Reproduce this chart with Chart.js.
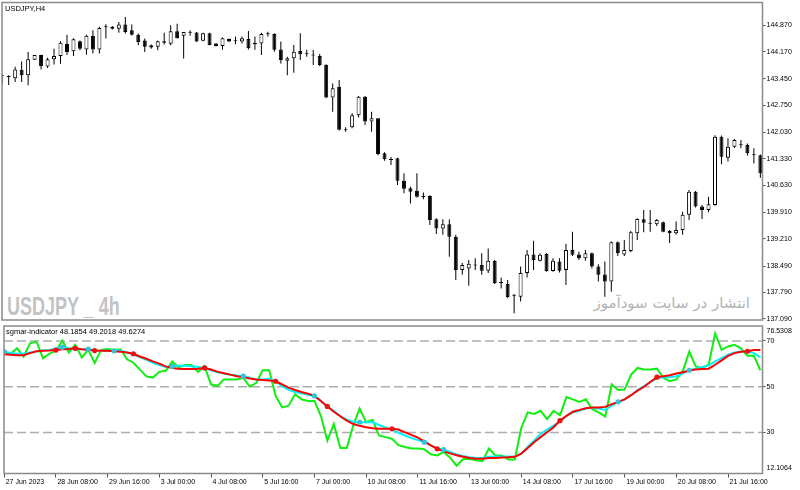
<!DOCTYPE html>
<html>
<head>
<meta charset="utf-8">
<script src="https://cdn.jsdelivr.net/npm/chart.js@4.4.1/dist/chart.umd.min.js"></script>
<style>
  html, body { margin: 0; padding: 0; background: #fff; }
  #wrap { position: relative; width: 800px; height: 490px; overflow: hidden; }
  canvas { position: absolute; left: 0; }
  .txt { position: absolute; white-space: nowrap; font-family: "Liberation Sans", Arial, sans-serif; color: #000; }
  #wm { left: 7px; top: 293.7px; font-size: 25px; line-height: 25px; font-weight: bold; color: #c3c3c3;
        transform: scaleX(0.72); transform-origin: 0 0; }
  #fa { right: 50px; top: 294px; font-family: "DejaVu Sans", sans-serif; font-size: 15px; line-height: 18px;
        color: #b4b4b4; direction: rtl; }
  #t1 { left: 5px; top: 3.5px; font-size: 7.5px; line-height: 9px; }
  #t2 { left: 6px; top: 326.5px; font-size: 7.5px; line-height: 9px; }
</style>
</head>
<body>
<div id="wrap">
  <div id="wm" class="txt">USDJPY _ 4h</div>
  <div id="fa" class="txt">انتشار در سایت سودآموز</div>
  <canvas id="main" width="800" height="322" style="top:0"></canvas>
  <canvas id="ind" width="800" height="168" style="top:322px"></canvas>
  <div id="t1" class="txt">USDJPY,H4</div>
  <div id="t2" class="txt">sgmar-indicator 48.1854 49.2018 49.6274</div>
</div>
<script>
// USDJPY H4 candles, 27 Jun 2023 00:00 onwards
const opens = [143.52,143.50,143.47,143.69,143.55,143.96,144.08,143.78,143.97,144.06,
  144.38,144.18,144.45,144.23,144.59,144.23,144.82,144.83,144.78,144.89,
  144.74,144.62,144.47,144.34,144.30,144.41,144.38,144.71,144.59,144.67,
  144.68,144.46,144.66,144.39,144.32,144.51,144.47,144.44,144.51,144.37,
  144.39,144.64,144.64,144.23,143.93,144.00,144.19,144.11,144.08,144.06,
  143.82,142.96,143.24,142.10,142.17,142.49,142.98,142.32,142.41,141.48,
  141.31,141.35,140.75,140.55,140.49,140.33,140.35,139.73,139.49,139.60,
  139.27,138.39,138.43,138.52,138.52,138.37,138.63,138.05,138.02,137.70,
  137.68,138.31,138.80,138.63,138.81,138.36,138.61,138.39,138.92,138.80,
  138.70,138.83,138.48,138.27,138.08,139.12,138.80,138.89,139.36,139.73,
  139.64,139.60,139.65,139.42,139.36,139.45,139.85,140.46,140.07,139.98,
  140.11,141.92,141.36,141.65,141.69,141.70,141.45,141.43];
const highs = [143.58,143.55,143.77,143.91,144.16,144.08,144.09,144.01,144.25,144.45,
  144.62,144.53,144.47,144.62,144.74,144.83,144.90,144.85,144.96,145.09,
  144.89,144.65,144.52,144.36,144.47,144.67,144.87,144.91,144.69,144.74,
  144.69,144.67,144.67,144.40,144.55,144.52,144.57,144.57,144.72,144.57,
  144.67,144.70,144.66,144.44,144.04,144.35,144.66,144.22,144.22,144.11,
  143.84,143.33,143.42,142.17,142.54,143.00,143.00,142.58,142.41,141.51,
  141.38,141.36,140.95,140.59,140.95,140.44,140.37,139.76,139.73,139.73,
  139.32,138.57,138.65,138.70,138.83,138.96,138.65,138.19,138.12,137.75,
  138.48,138.92,139.16,138.83,138.83,138.70,138.70,139.08,139.40,138.87,
  138.92,138.85,138.54,138.61,139.14,139.14,139.18,139.42,139.76,139.98,
  139.98,139.74,139.67,139.45,139.67,139.93,140.51,140.48,140.11,140.33,
  141.96,141.95,141.88,141.86,141.83,141.74,141.61,141.45];
const lows = [143.32,143.29,143.37,143.37,143.28,143.95,143.70,143.74,143.83,143.85,
  144.08,144.06,144.21,144.09,144.12,144.12,144.52,144.76,144.67,144.65,
  144.60,144.34,144.16,144.25,144.21,144.36,144.34,144.52,143.99,144.59,
  144.43,144.45,144.34,144.31,144.22,144.43,144.37,144.39,144.23,144.22,
  144.08,144.57,144.17,143.86,143.55,143.61,143.95,144.04,143.82,143.79,
  142.94,142.58,142.08,142.05,142.14,142.43,142.23,142.05,141.43,141.28,
  141.17,140.64,140.42,140.15,140.31,140.26,139.58,139.34,139.32,138.74,
  138.12,138.26,137.97,138.39,138.26,138.31,138.02,137.90,137.64,137.24,
  137.55,138.19,138.39,138.61,138.34,138.34,138.32,137.99,138.76,138.65,
  138.63,138.43,138.08,137.68,137.81,138.76,138.76,138.86,139.18,139.39,
  139.40,139.55,139.39,139.10,139.32,139.32,139.71,140.04,139.74,139.92,
  140.09,141.19,141.26,141.62,141.61,141.42,141.21,140.83];
const closes = [143.54,143.51,143.70,143.55,143.97,144.08,143.79,143.97,144.06,144.41,
  144.16,144.50,144.25,144.59,144.23,144.80,144.84,144.78,144.89,144.69,
  144.62,144.43,144.30,144.28,144.45,144.45,144.71,144.53,144.69,144.68,
  144.44,144.66,144.35,144.32,144.53,144.44,144.45,144.53,144.26,144.41,
  144.64,144.63,144.22,143.95,144.00,144.17,144.10,144.10,144.07,143.82,
  142.96,143.20,142.10,142.09,142.49,142.98,142.32,142.41,141.46,141.32,
  141.30,140.75,140.54,140.46,140.33,140.32,139.71,139.49,139.60,139.27,
  138.39,138.52,138.55,138.51,138.37,138.63,138.04,138.04,137.67,137.69,
  138.31,138.80,138.65,138.79,138.36,138.63,138.37,138.92,138.79,138.70,
  138.83,138.48,138.26,138.08,139.12,138.83,138.92,139.39,139.74,139.64,
  139.61,139.71,139.40,139.36,139.45,139.85,140.46,140.07,139.98,140.13,
  141.92,141.39,141.65,141.83,141.71,141.48,141.43,140.95];

// sgmar-indicator buffers
const green = [64.7,64.4,66.8,63.2,69.0,69.7,62.5,64.4,65.7,70.1,
  65.0,68.3,62.8,66.1,60.4,66.1,66.5,66.1,66.4,62.0,
  60.5,57.5,54.5,54.0,56.5,57.0,61.0,58.5,59.5,59.5,
  56.5,59.0,51.0,50.3,53.2,53.2,53.2,53.9,50.0,51.7,
  57.2,57.2,46.0,41.0,41.7,46.7,44.5,43.8,43.8,37.3,
  26.5,33.7,23.2,23.2,33.0,40.5,34.5,35.6,28.7,28.0,
  27.3,24.5,23.7,23.0,23.0,22.7,20.5,20.0,21.5,19.0,
  15.5,18.3,18.5,17.9,17.5,23.0,20.0,20.0,18.2,18.2,
  32.0,38.8,38.1,39.5,35.9,39.5,37.6,45.5,44.5,43.4,
  44.5,40.2,38.8,37.0,51.0,48.6,48.8,55.3,58.2,57.5,
  57.5,57.9,53.9,52.4,53.2,56.8,65.4,58.9,58.2,59.6,
  73.3,66.1,67.6,68.3,66.8,63.5,63.5,57.2];
const cyan = [65.4,64.7,64.4,64.4,65.0,65.4,65.8,66.1,66.7,67.3,
  66.8,66.4,66.4,66.4,65.8,65.7,65.7,65.7,65.8,65.0,
  64.0,63.0,61.8,60.4,59.5,58.6,58.9,59.2,59.2,58.9,
  58.6,58.2,57.2,56.3,55.8,55.2,54.9,54.6,53.9,53.2,
  53.2,53.5,52.4,50.3,48.6,47.7,47.1,46.5,46.0,43.8,
  41.4,39.5,37.1,35.6,34.7,34.5,34.5,34.5,33.3,32.2,
  31.3,29.9,28.7,27.6,26.7,25.8,24.4,23.2,22.5,21.5,
  20.4,19.8,19.2,18.9,18.9,19.4,19.5,19.5,19.5,19.4,
  20.8,23.7,26.5,29.4,31.3,33.0,34.7,37.3,38.8,39.5,
  40.5,40.9,40.5,39.9,41.7,43.4,44.5,46.3,48.6,50.3,
  52.0,53.6,54.2,54.2,54.6,55.8,57.2,57.9,58.6,59.2,
  61.1,62.5,64.0,65.0,65.4,65.4,64.7,62.9];
const red = [64.2,64.0,63.8,63.8,64.7,65.5,65.7,65.8,66.0,66.4,
  66.5,66.8,66.4,66.1,65.8,65.7,65.7,65.5,65.3,65.0,
  64.4,63.2,62.2,61.1,60.1,58.9,58.2,57.9,57.8,57.8,
  57.9,58.2,57.5,56.6,55.9,55.3,54.6,54.2,53.6,53.2,
  52.9,52.7,52.4,51.0,49.6,48.6,47.7,47.0,46.0,43.8,
  41.4,39.1,37.1,35.2,33.7,33.0,32.3,31.9,31.6,31.6,
  31.6,31.3,30.1,29.0,27.8,26.1,24.4,22.9,21.8,20.9,
  20.1,19.4,18.9,18.6,18.6,18.9,18.9,19.1,19.2,19.4,
  20.8,23.2,25.8,28.0,30.1,32.3,35.2,37.3,39.1,39.9,
  40.6,40.9,40.9,41.2,42.4,43.4,44.5,46.3,48.3,50.0,
  52.2,54.2,54.6,55.0,55.8,56.3,57.1,57.5,57.8,57.9,
  59.6,61.5,63.5,64.7,65.3,65.5,66.0,66.1];
const redDots = [8, 11, 14, 20, 31, 42, 50, 60, 67, 86, 101, 115];
const cyanDots = [0, 9, 13, 17, 26, 37, 48, 55, 65, 68, 95, 106];

const timeTickIdx = [0, 8, 16, 24, 32, 40, 48, 56, 64, 72, 80, 88, 96, 104, 112];
const timeLabels = ['27 Jun 2023', '28 Jun 08:00', '29 Jun 16:00', '3 Jul 00:00', '4 Jul 08:00',
  '5 Jul 16:00', '7 Jul 00:00', '10 Jul 08:00', '11 Jul 16:00', '13 Jul 00:00', '14 Jul 08:00',
  '17 Jul 16:00', '19 Jul 00:00', '20 Jul 08:00', '21 Jul 16:00'];
const priceTicks = [144.870, 144.170, 143.450, 142.750, 142.030, 141.330, 140.630,
  139.910, 139.210, 138.490, 137.790, 137.090];
const levels = [70, 50, 30];
const indMin = 12.1064, indMax = 76.5308;

const xMin = -0.03, xMax = 117.33;
const axisFont = { family: '"Liberation Sans", Arial, sans-serif', size: 7 };

// grey frame around each pane
const framePlugin = {
  id: 'frame',
  afterDraw(chart) {
    const { ctx, chartArea: a } = chart;
    ctx.save();
    ctx.strokeStyle = '#8a8a8a';
    ctx.lineWidth = 1.5;
    ctx.strokeRect(a.left, a.top, a.right - a.left, a.bottom - a.top);
    ctx.restore();
  }
};

// MT4 puts the range labels just inside the pane
const edgeLabels = {
  id: 'edgeLabels',
  afterDraw(chart) {
    const { ctx, chartArea: a } = chart;
    ctx.save();
    ctx.font = '7px "Liberation Sans", Arial, sans-serif';
    ctx.fillStyle = '#000';
    ctx.textAlign = 'left';
    ctx.textBaseline = 'top';
    ctx.fillText(indMax.toFixed(4), a.right + 4, a.top + 2);
    ctx.textBaseline = 'bottom';
    ctx.fillText(indMin.toFixed(4), a.right + 4, a.bottom - 2);
    ctx.restore();
  }
};

const idx = opens.map((_, i) => i);

new Chart(document.getElementById('main'), {
  type: 'bar',
  data: {
    datasets: [
      {
        data: idx.map(i => ({ x: i, y: [opens[i], closes[i]] })),
        backgroundColor: c => closes[c.dataIndex] >= opens[c.dataIndex] ? '#ffffff' : '#000000',
        borderColor: '#000000',
        borderWidth: 1,
        borderSkipped: false,
        inflateAmount: 0,
        barThickness: 4,
        minBarLength: 1,
        grouped: false
      },
      {
        data: idx.map(i => ({ x: i, y: [lows[i], highs[i]] })),
        backgroundColor: '#000000',
        borderWidth: 0,
        inflateAmount: 0,
        barThickness: 1,
        grouped: false
      }
    ]
  },
  options: {
    responsive: false,
    animation: false,
    devicePixelRatio: 1,
    events: [],
    layout: { padding: { left: 2, top: 2.5, bottom: 2, right: 0 } },
    plugins: { legend: { display: false }, tooltip: { enabled: false } },
    scales: {
      x: { type: 'linear', display: false, min: xMin, max: xMax, offset: false },
      y: {
        position: 'right',
        min: 137.063,
        max: 145.474,
        afterBuildTicks: s => { s.ticks = priceTicks.map(v => ({ value: v })); },
        afterFit: s => { s.width = 37.5; s.paddingTop = 0; s.paddingBottom = 0; },
        ticks: { callback: v => v.toFixed(3), font: axisFont, color: '#000', padding: 1 },
        grid: { drawOnChartArea: false, tickLength: 3, color: '#555' },
        border: { display: false }
      }
    }
  },
  plugins: [framePlugin]
});

const pts = arr => arr.map((v, i) => ({ x: i, y: v }));
const dots = (arr, list) => list.map(i => ({ x: i, y: arr[i] }));

new Chart(document.getElementById('ind'), {
  type: 'line',
  data: {
    datasets: [
      // signal dots sit on top of the lines
      { data: dots(cyan, cyanDots), showLine: false, pointRadius: 2.6, pointBackgroundColor: '#34c2dc', pointBorderWidth: 0 },
      { data: dots(red, redDots), showLine: false, pointRadius: 2.6, pointBackgroundColor: '#ee1010', pointBorderWidth: 0 },
      { data: pts(red), borderColor: '#ff0000', borderWidth: 2, tension: 0, pointRadius: 0 },
      { data: pts(cyan), borderColor: '#00f0ff', borderWidth: 2, tension: 0, pointRadius: 0 },
      { data: pts(green), borderColor: '#11ee11', borderWidth: 2, tension: 0, pointRadius: 0 },
      ...levels.map(l => ({
        data: [{ x: xMin, y: l }, { x: xMax, y: l }],
        borderColor: '#adadad', borderWidth: 1.5, borderDash: [9, 4], pointRadius: 0
      }))
    ]
  },
  options: {
    responsive: false,
    animation: false,
    devicePixelRatio: 1,
    events: [],
    layout: { padding: { left: 2, top: 2.2, bottom: 0, right: 0 } },
    plugins: { legend: { display: false }, tooltip: { enabled: false } },
    scales: {
      x: {
        type: 'linear', min: xMin, max: xMax, offset: false,
        afterBuildTicks: s => { s.ticks = timeTickIdx.map(v => ({ value: v })); },
        afterFit: s => { s.height = 16.5; s.paddingLeft = 0; s.paddingRight = 0; },
        ticks: {
          autoSkip: false, maxRotation: 0, align: 'start', labelOffset: 1.5, padding: 0,
          callback: (v, k) => timeLabels[k], font: axisFont, color: '#000'
        },
        grid: { drawOnChartArea: false, tickLength: 4, color: '#555' },
        border: { display: false }
      },
      y: {
        position: 'right', min: indMin, max: indMax,
        afterBuildTicks: s => { s.ticks = levels.map(v => ({ value: v })); },
        afterFit: s => { s.width = 37.5; s.paddingTop = 0; s.paddingBottom = 0; },
        ticks: { callback: v => String(v), font: axisFont, color: '#000', padding: 1 },
        grid: { drawOnChartArea: false, tickLength: 3, color: '#555' },
        border: { display: false }
      }
    }
  },
  plugins: [framePlugin, edgeLabels]
});
</script>
</body>
</html>
